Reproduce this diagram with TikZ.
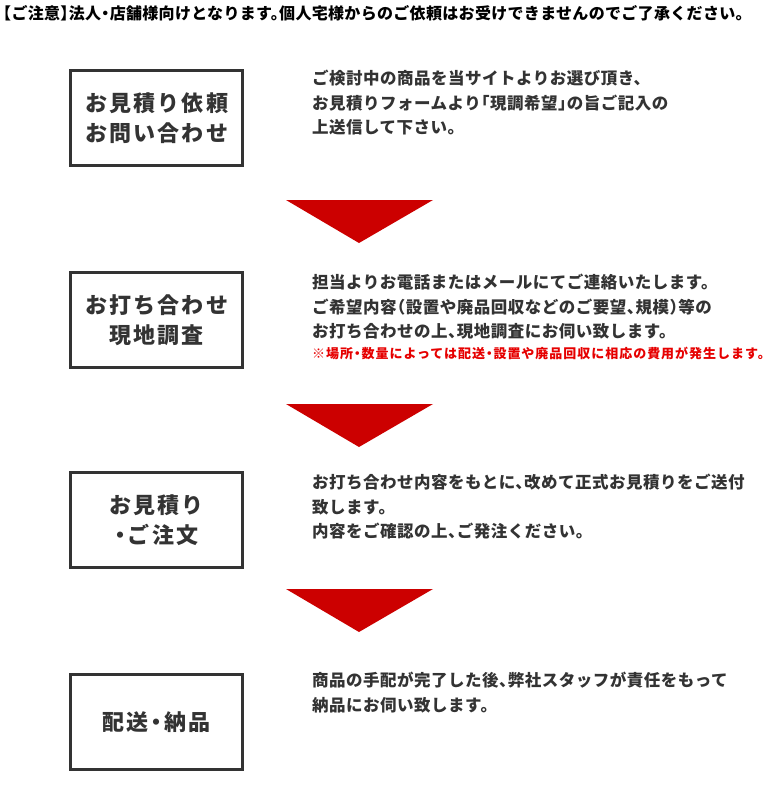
\documentclass[tikz,border=0pt]{standalone}
\usepackage{fontspec}
\setmainfont{Noto Sans CJK JP}[RawFeature=+halt]
\usepackage{xcolor}
\usetikzlibrary{positioning}

\definecolor{boxgray}{HTML}{333333}
\definecolor{arrred}{HTML}{CC0000}
\definecolor{notered}{HTML}{E60000}

\begin{document}
\begin{tikzpicture}[x=1pt, y=-1pt,
    stepbox/.style={rectangle, draw=boxgray, line width=3pt, text=boxgray,
                    minimum width=172pt, minimum height=95pt, align=center,
                    font=\fontsize{22}{30}\selectfont\bfseries\addfontfeature{LetterSpace=10}},
    desc/.style={anchor=north west, inner sep=0pt, align=left, text=boxgray,
                 font=\fontsize{16.5}{24.5}\selectfont\bfseries\addfontfeature{LetterSpace=3}},
    warn/.style={anchor=north west, inner sep=0pt, text=notered,
                 font=\fontsize{13}{14}\selectfont\bfseries\addfontfeature{LetterSpace=7.5}},
    tri/.style={fill=arrred}
]
\useasboundingbox[fill=white] (0,0) rectangle (771,787);

\node[anchor=west, inner sep=0pt,
      font=\fontsize{16}{17}\selectfont\bfseries\addfontfeature{LetterSpace=2}] (caution) at (3,13)
      {【ご注意】法人・店舗様向けとなります。個人宅様からのご依頼はお受けできませんのでご了承ください。};

% steps
\node[stepbox] (inquiry)  at (156.5,118) {お見積り依頼\\お問い合わせ};
\node[stepbox] (survey)   at (156.5,320) {お打ち合わせ\\現地調査};
\node[stepbox] (order)    at (156.5,520) {お見積り\\・ご注文};
\node[stepbox] (delivery) at (156.5,722) {配送・納品};

% descriptions
\node[desc] (inquirytxt) at (312,70)
      {ご検討中の商品を当サイトよりお選び頂き、\\お見積りフォームより「現調希望」の旨ご記入の\\上送信して下さい。};
\node[desc] (surveytxt) at (312,274)
      {担当よりお電話またはメールにてご連絡いたします。\\ご希望内容（設置や廃品回収などのご要望、規模）等の\\お打ち合わせの上、現地調査にお伺い致します。};
\node[warn] (surveynote) at (312,346.5)
      {※場所・数量によっては配送・設置や廃品回収に相応の費用が発生します。};
\node[desc] (ordertxt) at (312,474)
      {お打ち合わせ内容をもとに、改めて正式お見積りをご送付\\致します。\\内容をご確認の上、ご発注ください。};
\node[desc] (deliverytxt) at (312,672)
      {商品の手配が完了した後、弊社スタッフが責任をもって\\納品にお伺い致します。};

% arrows
\foreach \y in {200,404,589}
  \fill[tri] (286,\y) -- (433,\y) -- (359,\y+43) -- cycle;
\end{tikzpicture}
\end{document}
